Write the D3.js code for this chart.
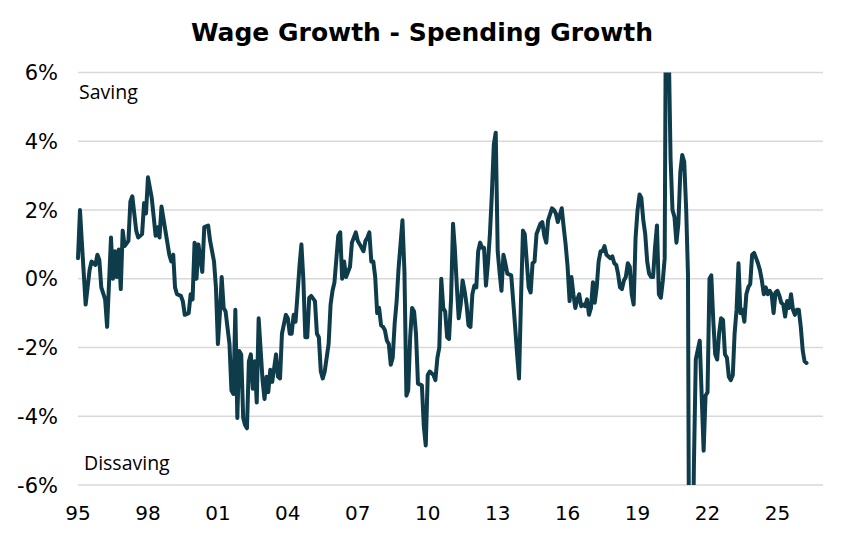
<!DOCTYPE html>
<html>
<head>
<meta charset="utf-8">
<script src="https://cdn.jsdelivr.net/npm/d3@7"></script>
<style>
body { margin: 0; background: #fff; }
</style>
</head>
<body>
<div id="root"></div>
<script>
// wage growth minus spending growth, % y/y, monthly
// months counted from Jan 1995
var startMonth = new Date(1995, 0, 1);

var monthOffsets = [
  0, 1, 2, 4, 6, 7, 9, 10, 11, 12, 14, 15, 17, 18, 19, 20, 21, 22, 23, 24,
  26, 27, 28, 30, 31, 33, 34, 35, 36, 38, 39, 40, 41, 42, 43, 45, 46, 47, 48, 49,
  50, 51, 53, 54, 55, 57, 58, 59, 60, 61, 62, 64, 65, 67, 68, 70, 71, 72, 73, 74,
  75, 76, 78, 79, 80, 81, 82, 83, 84, 85, 86, 87, 88, 89, 90, 91, 92, 93, 95, 96,
  97, 98, 99, 100, 101, 102, 103, 104, 105, 107, 108, 109, 110, 111, 112, 113, 114, 115, 116, 117,
  118, 119, 120, 122, 123, 124, 125, 126, 127, 129, 130, 131, 132, 134, 135, 136, 137, 138, 140, 141,
  143, 144, 145, 147, 148, 149, 150, 151, 152, 153, 154, 155, 156, 157, 158, 159, 160, 161, 162, 163,
  164, 165, 167, 168, 169, 170, 171, 172, 173, 174, 175, 177, 178, 179, 180, 181, 183, 184, 185, 186,
  187, 188, 189, 190, 191, 192, 193, 194, 195, 196, 197, 198, 199, 200, 201, 202, 203, 204, 205, 206,
  207, 208, 209, 210, 211, 212, 213, 214, 215, 216, 217, 218, 219, 220, 221, 223, 224, 225, 226, 227,
  228, 229, 230, 231, 232, 233, 234, 235, 236, 238, 239, 240, 241, 242, 244, 245, 246, 247, 249, 250,
  251, 252, 253, 254, 255, 256, 257, 258, 259, 260, 261, 262, 263, 264, 265, 266, 267, 268, 269, 270,
  271, 272, 273, 274, 275, 276, 277, 278, 279, 280, 281, 282, 283, 284, 285, 286, 287, 288, 289, 290,
  291, 292, 293, 294, 295, 296, 297, 298, 299, 300, 301, 302, 303, 304, 305, 306, 307, 308, 309, 310,
  311, 312, 313, 314, 315, 316, 317, 318, 320, 322, 323, 324, 325, 326, 327, 328, 329, 330, 331, 332,
  333, 334, 335, 336, 337, 338, 339, 340, 341, 342, 343, 344, 345, 346, 347, 348, 349, 350, 351, 352,
  353, 354, 355, 356, 357, 358, 359, 360, 361, 362, 363, 364, 365, 366, 367, 368, 369, 370, 371, 372,
  373, 374, 375
];

var values = [
  0.6, 2.0, 1.1, -0.75, 0.25, 0.5, 0.4, 0.7, 0.55, -0.25, -0.6, -1.4, 1.2, 0.0, 0.8, 0.05, 0.85, -0.3, 1.4, 0.95,
  1.1, 2.25, 2.4, 1.4, 1.2, 1.3, 2.2, 1.9, 2.95, 2.35, 1.8, 1.25, 1.5, 1.2, 2.1, 1.4, 1.05, 0.7, 0.5, 0.7,
  -0.25, -0.45, -0.5, -0.65, -1.05, -1.0, -0.45, -0.6, 1.05, 0.0, 1.0, 0.2, 1.5, 1.55, 1.1, 0.5, -0.25, -1.9, -1.0, 0.05,
  -0.85, -0.95, -1.9, -3.25, -3.35, -0.9, -4.05, -2.1, -2.2, -4.05, -4.25, -4.35, -2.4, -2.2, -3.2, -2.4, -3.6, -1.15, -2.95, -3.5,
  -2.85, -3.3, -2.65, -3.0, -2.6, -2.2, -2.85, -2.9, -1.6, -1.05, -1.15, -1.6, -1.6, -1.05, -1.25, -0.45, 0.35, 1.0, -0.05, -1.7,
  -1.7, -0.55, -0.5, -0.65, -1.6, -1.7, -2.7, -2.9, -2.7, -1.9, -0.75, -0.35, -0.1, 1.25, 1.35, 0.0, 0.5, 0.05, 0.35, 1.05,
  1.35, 1.1, 1.0, 0.8, 1.1, 1.2, 1.35, 0.5, 0.5, 0.05, -1.0, -0.85, -1.35, -1.4, -1.5, -1.8, -1.9, -2.5, -2.3, -1.3,
  -0.65, 0.3, 1.7, 0.2, -3.4, -3.25, -1.7, -0.85, -0.95, -1.6, -3.05, -3.1, -4.3, -4.85, -2.8, -2.7, -2.8, -2.95, -2.3, -2.0,
  0.0, -0.85, -0.95, -1.7, -1.75, -0.6, 1.6, 0.9, -0.2, -1.15, -0.75, -0.05, -0.35, -0.75, -1.35, -1.4, -0.45, -0.2, -0.25, 0.8,
  1.05, 0.9, 0.9, -0.2, 0.45, 1.3, 2.45, 3.9, 4.25, 0.8, 0.15, -0.35, 0.7, 0.45, 0.15, 0.1, -0.65, -1.4, -2.2, -2.9,
  -0.6, 1.4, 1.3, 0.5, -0.25, -0.4, 0.45, 0.5, 1.3, 1.6, 1.65, 1.25, 1.05, 1.7, 2.05, 2.0, 1.9, 1.65, 2.05, 1.5,
  1.0, 0.35, -0.65, 0.05, -0.45, -0.85, -0.6, -0.45, -0.8, -0.75, -0.8, -0.6, -1.05, -0.85, -0.1, -0.7, -0.25, 0.5, 0.8, 0.8,
  0.95, 0.7, 0.65, 0.6, 0.65, 0.45, 0.4, 0.15, -0.25, -0.3, -0.05, 0.05, 0.45, 0.35, -0.45, -0.75, 1.2, 2.0, 2.45, 2.35,
  1.7, 1.3, 0.5, 0.15, 0.05, 0.05, 0.9, 1.55, -0.45, -0.55, -0.05, 0.6, 13.0, 7.0, 3.5, 2.0, 1.8, 1.05, 1.6, 3.1,
  3.6, 3.4, 2.0, 0.1, -16.0, -11.0, -5.5, -2.35, -1.8, -5.0, -3.4, -3.3, 0.0, 0.1, -1.2, -2.2, -2.35, -1.6, -1.15, -1.2,
  -2.2, -2.3, -2.85, -2.95, -2.8, -1.6, -0.9, 0.45, -1.0, -0.9, -1.25, -0.45, -0.25, -0.15, 0.7, 0.75, 0.6, 0.45, 0.25, -0.05,
  -0.45, -0.25, -0.45, -0.35, -0.45, -1.0, -0.4, -0.35, -0.5, -0.7, -0.75, -1.1, -0.65, -0.85, -0.45, -0.9, -1.05, -0.9, -0.9, -1.4,
  -2.1, -2.4, -2.45
];

var yTicks = [-6, -4, -2, 0, 2, 4, 6];
var xTickYears = [1995, 1998, 2001, 2004, 2007, 2010, 2013, 2016, 2019, 2022, 2025];
var xTickLabels = ["95", "98", "01", "04", "07", "10", "13", "16", "19", "22", "25"];

var width = 846, height = 538;
var lineColor = "#0f3c4b";

var data = monthOffsets.map(function(m, i) {
  return { date: d3.timeMonth.offset(startMonth, m), value: values[i] };
});

var x = d3.scaleTime()
  .domain([startMonth, new Date(2026, 11, 15)])
  .range([78, 823]);

var y = d3.scaleLinear()
  .domain([-6, 6])
  .range([485, 72.5]);

var svg = d3.select("#root").append("svg")
  .attr("width", width)
  .attr("height", height)
  .style("display", "block");

svg.append("defs").append("clipPath")
  .attr("id", "plotclip")
  .append("rect")
  .attr("x", 0)
  .attr("y", y(6))
  .attr("width", width)
  .attr("height", y(-6) - y(6));

// title
svg.append("text")
  .attr("x", 422)
  .attr("y", 41)
  .attr("text-anchor", "middle")
  .attr("font-family", "'DejaVu Sans', Verdana, sans-serif")
  .attr("font-weight", "bold")
  .attr("font-size", "25px")
  .attr("fill", "#000")
  .text("Wage Growth - Spending Growth");

// gridlines
svg.selectAll("line.grid")
  .data(yTicks)
  .enter()
  .append("line")
  .attr("class", "grid")
  .attr("x1", x.range()[0])
  .attr("x2", x.range()[1])
  .attr("y1", function(d) { return y(d); })
  .attr("y2", function(d) { return y(d); })
  .attr("stroke", "#d9d9d9")
  .attr("stroke-width", 1.6);

// y labels
svg.selectAll("text.ylab")
  .data(yTicks)
  .enter()
  .append("text")
  .attr("class", "ylab")
  .attr("x", 58)
  .attr("y", function(d) { return y(d); })
  .attr("dy", "0.36em")
  .attr("text-anchor", "end")
  .attr("font-family", "'DejaVu Sans', Verdana, sans-serif")
  .attr("font-size", "21px")
  .attr("fill", "#000")
  .text(function(d) { return d + "%"; });

// x labels
svg.selectAll("text.xlab")
  .data(xTickYears)
  .enter()
  .append("text")
  .attr("class", "xlab")
  .attr("x", function(d) { return x(new Date(d, 0, 1)); })
  .attr("y", 520)
  .attr("text-anchor", "middle")
  .attr("font-family", "'DejaVu Sans', Verdana, sans-serif")
  .attr("font-size", "20px")
  .attr("fill", "#000")
  .text(function(d, i) { return xTickLabels[i]; });

// annotations
svg.append("text")
  .attr("x", 79)
  .attr("y", 99)
  .attr("font-family", "'Open Sans', sans-serif")
  .attr("font-size", "19.5px")
  .attr("fill", "#000")
  .text("Saving");

svg.append("text")
  .attr("x", 84)
  .attr("y", 470)
  .attr("font-family", "'Open Sans', sans-serif")
  .attr("font-size", "19.5px")
  .attr("fill", "#000")
  .text("Dissaving");

var line = d3.line()
  .x(function(d) { return x(d.date); })
  .y(function(d) { return y(d.value); });

svg.append("path")
  .datum(data)
  .attr("clip-path", "url(#plotclip)")
  .attr("d", line)
  .attr("fill", "none")
  .attr("stroke", lineColor)
  .attr("stroke-width", 4)
  .attr("stroke-linejoin", "round")
  .attr("stroke-linecap", "round");
</script>
</body>
</html>
